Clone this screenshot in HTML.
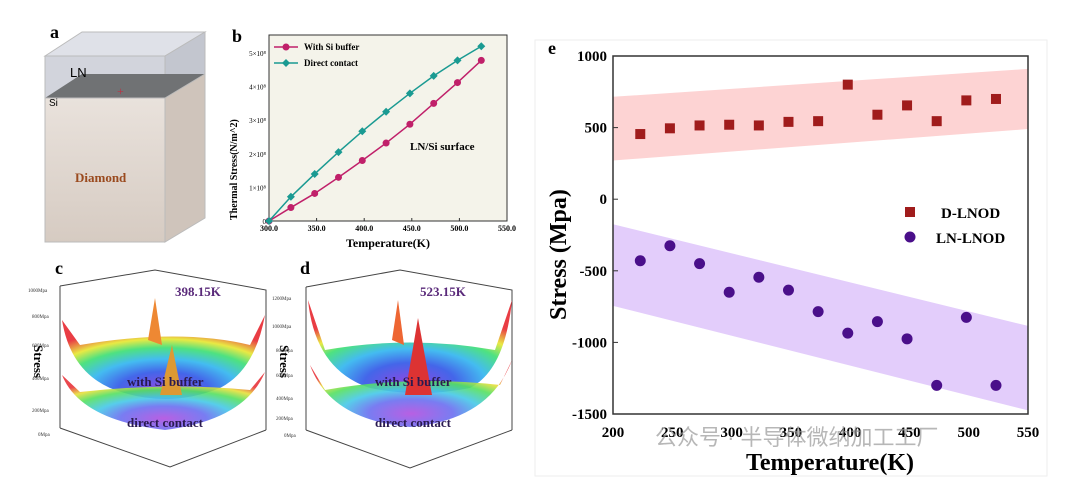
<!DOCTYPE html>
<html><head><meta charset="utf-8"><style>
body{margin:0;background:#fff;width:1080px;height:479px;overflow:hidden;font-family:"Liberation Serif","Noto Sans CJK SC",serif}
svg{display:block}
</style></head><body>
<svg id="fig" width="1080" height="479" viewBox="0 0 1080 479" xmlns="http://www.w3.org/2000/svg" font-family="Liberation Serif, serif">
<defs>
<radialGradient id="bowl" cx="0.5" cy="0.9" r="0.75" fx="0.5" fy="0.9">
<stop offset="0" stop-color="#8a3ee0"/><stop offset="0.3" stop-color="#3a5ee8"/><stop offset="0.5" stop-color="#3ab8f0"/><stop offset="0.68" stop-color="#45e07a"/><stop offset="0.82" stop-color="#e8e83a"/><stop offset="1" stop-color="#e8333a"/>
</radialGradient>
<radialGradient id="bowl2" cx="0.5" cy="0.8" r="0.7" fx="0.5" fy="0.8">
<stop offset="0" stop-color="#b04ee0"/><stop offset="0.3" stop-color="#6a6ef0"/><stop offset="0.5" stop-color="#45c8e8"/><stop offset="0.7" stop-color="#55e060"/><stop offset="0.85" stop-color="#e8e03a"/><stop offset="1" stop-color="#e8333a"/>
</radialGradient>
<linearGradient id="cube" x1="0" y1="0" x2="0" y2="1"><stop offset="0" stop-color="#e9e2dc"/><stop offset="1" stop-color="#d6cbc2"/></linearGradient>
</defs>

<!-- Panel a -->
<g>
<text x="50" y="38" font-size="18" font-weight="bold">a</text>
<polygon points="45,56 82,32 205,32 165,56" fill="#dfe1e8" stroke="#bbb"/>
<rect x="45" y="56" width="120" height="42" fill="#d2d4dc" stroke="#bbb"/>
<polygon points="165,56 205,32 205,74 165,98" fill="#c3c6cf" stroke="#bbb"/>
<polygon points="45,98 82,74 205,74 165,98" fill="#707274"/>
<rect x="45" y="98" width="120" height="144" fill="url(#cube)" stroke="#bbb"/>
<polygon points="165,98 205,74 205,218 165,242" fill="#cfc4bb" stroke="#bbb"/>
<text x="70" y="77" font-size="13" font-family="Liberation Sans, sans-serif">LN</text>
<text x="49" y="106" font-size="10" font-family="Liberation Sans, sans-serif">Si</text>
<text x="75" y="182" font-size="13" font-weight="bold" fill="#9a4a1e">Diamond</text>
<text x="117" y="95" font-size="12" fill="#b34">+</text>
</g>

<!-- Panel b -->
<g id="pb">
<text x="232" y="42" font-size="18" font-weight="bold">b</text>
<rect x="269" y="35" width="238" height="186" fill="#f4f3ea" stroke="#333"/>
<text x="410" y="150" font-size="11" font-weight="bold">LN/Si surface</text>
<text transform="translate(237,220) rotate(-90)" font-size="10" font-weight="bold">Thermal Stress(N/m^2)</text>
<text x="388" y="247" font-size="12" font-weight="bold" text-anchor="middle">Temperature(K)</text>
</g>

<!-- Panel c -->
<g>
<text x="55" y="274" font-size="18" font-weight="bold">c</text>
<polyline points="60,286 155,270 266,290 266,430" fill="none" stroke="#444"/>
<line x1="60" y1="286" x2="60" y2="428" stroke="#444"/>
<polyline points="60,428 170,467 266,430" fill="none" stroke="#444"/>
<path d="M62,320 Q70,370 110,388 Q165,410 220,388 Q255,370 265,315 L250,345 Q180,328 80,345 Z" fill="url(#bowl)" opacity="0.95"/>
<path d="M62,375 Q80,420 165,430 Q245,420 265,372 L250,390 Q170,382 80,392 Z" fill="url(#bowl2)" opacity="0.9"/>
<path d="M148,340 L155,298 L162,345 Z" fill="#e83"/>
<path d="M160,395 L172,345 L182,395 Z" fill="#d93"/>
<text x="175" y="296" font-size="13" font-weight="bold" fill="#5a2a7a">398.15K</text>
<text transform="translate(34,345) rotate(90)" font-size="13" font-weight="bold">Stress</text>
<text x="127" y="386" font-size="13" font-weight="bold" fill="#2a1a50">with Si buffer</text>
<text x="127" y="427" font-size="13" font-weight="bold" fill="#2a1a50">direct contact</text>
<g font-size="5" fill="#333"><text x="28" y="292">1000Mpa</text><text x="32" y="318">800Mpa</text><text x="32" y="347">600Mpa</text><text x="32" y="380">400Mpa</text><text x="32" y="412">200Mpa</text><text x="38" y="436">0Mpa</text></g>
</g>

<!-- Panel d -->
<g>
<text x="300" y="274" font-size="18" font-weight="bold">d</text>
<polyline points="306,287 400,270 512,290 512,430" fill="none" stroke="#444"/>
<line x1="306" y1="287" x2="306" y2="430" stroke="#444"/>
<polyline points="306,430 410,468 512,430" fill="none" stroke="#444"/>
<path d="M308,300 Q315,370 370,388 Q420,398 470,388 Q505,370 512,300 L495,350 Q410,335 325,350 Z" fill="url(#bowl)" opacity="0.95"/>
<path d="M310,365 Q330,420 410,427 Q490,420 512,360 L500,385 Q410,375 325,390 Z" fill="url(#bowl2)" opacity="0.9"/>
<path d="M392,340 L398,300 L404,345 Z" fill="#e63"/>
<path d="M405,395 L418,318 L432,395 Z" fill="#d33"/>
<text x="420" y="296" font-size="13" font-weight="bold" fill="#5a2a7a">523.15K</text>
<text transform="translate(280,345) rotate(90)" font-size="13" font-weight="bold">Stress</text>
<text x="375" y="386" font-size="13" font-weight="bold" fill="#2a1a50">with Si buffer</text>
<text x="375" y="427" font-size="13" font-weight="bold" fill="#2a1a50">direct contact</text>
<g font-size="5" fill="#333"><text x="272" y="300">1200Mpa</text><text x="272" y="328">1000Mpa</text><text x="276" y="352">800Mpa</text><text x="276" y="377">600Mpa</text><text x="276" y="400">400Mpa</text><text x="276" y="420">200Mpa</text><text x="284" y="437">0Mpa</text></g>
</g>

<!-- Panel e -->
<g id="pe">
<rect x="535" y="40" width="512" height="436" fill="none" stroke="#eee"/>
<text x="548" y="54" font-size="18" font-weight="bold">e</text>
<text transform="translate(566,320) rotate(-90)" font-size="24" font-weight="bold">Stress (Mpa)</text>
<text x="830" y="470" font-size="24" font-weight="bold" text-anchor="middle">Temperature(K)</text>
</g>
<text x="655" y="445" font-size="22" fill="#999" opacity="0.7" font-family="Liberation Sans, Noto Sans CJK SC, sans-serif">公众号 · 半导体微纳加工工厂</text>
</svg>
<script>
// Panel b data
const bTemps=[300,323,348,373,398,423,448,473,498,523];
const bBuffer=[0,0.4,0.82,1.3,1.8,2.32,2.88,3.5,4.12,4.78];
const bDirect=[0,0.72,1.4,2.05,2.67,3.25,3.8,4.32,4.78,5.2];
const bXTicks=[300,350,400,450,500,550];
const bYTicks=[0,1,2,3,4,5];
// Panel e data
const eTemps=[223,248,273,298,323,348,373,398,423,448,473,498,523];
const eDLNOD=[455,495,515,520,515,540,545,800,590,655,545,690,700];
const eLNLNOD=[-430,-325,-450,-650,-545,-635,-785,-935,-855,-975,-1300,-825,-1300];
const eRedBandX=[200,550];
const eRedBandLow=[270,490];
const eRedBandHigh=[715,910];
const ePurpleBandLow=[-745,-1475];
const ePurpleBandHigh=[-175,-885];
const eXTicks=[200,250,300,350,400,450,500,550];
const eYTicks=[-1500,-1000,-500,0,500,1000];

const NS='http://www.w3.org/2000/svg';
function mk(parent,tag,attrs){const e=document.createElementNS(NS,tag);for(const k in attrs)e.setAttribute(k,attrs[k]);parent.appendChild(e);return e;}

// Panel b
const pb=document.getElementById('pb');
const bx=v=>269+(v-300)/250*238;
const by=v=>221-v*33.6;
bXTicks.forEach(t=>{
 const tk=mk(pb,'line',{x1:bx(t),x2:bx(t),y1:221,y2:218,stroke:'#333'});
 
 
 const l=mk(pb,'text',{x:bx(t),y:231,'font-size':8,'font-weight':'bold','text-anchor':'middle'});l.textContent=t.toFixed(1);
 
 
});
bYTicks.forEach(t=>{
 const l=mk(pb,'text',{x:266,y:by(t)+3,'font-size':7,'text-anchor':'end'});l.textContent=t===0?'0':t+'×10⁸';
 
 
});
function bSeries(vals,color,shape,name){
 const ln=mk(pb,'polyline',{points:bTemps.map((t,i)=>bx(t)+','+by(vals[i])).join(' '),fill:'none',stroke:color,'stroke-width':1.5});
 
 
 bTemps.forEach((t,i)=>{
  let m;
  if(shape==='c') m=mk(pb,'circle',{cx:bx(t),cy:by(vals[i]),r:3.5,fill:color});
  else {const x=bx(t),y=by(vals[i]);m=mk(pb,'polygon',{points:`${x},${y-4} ${x+4},${y} ${x},${y+4} ${x-4},${y}`,fill:color});}
  
  
 });
}
bSeries(bBuffer,'#c0206a','c','with-si-buffer');
bSeries(bDirect,'#1a9a92','d','direct-contact');
[['With Si buffer','#c0206a','c',47],['Direct contact','#1a9a92','d',63]].forEach(([t,c,s,y])=>{
 const g=mk(pb,'g',{});
 
 
 mk(g,'line',{x1:274,x2:298,y1:y,y2:y,stroke:c,'stroke-width':1.5});
 if(s==='c')mk(g,'circle',{cx:286,cy:y,r:3.5,fill:c});else mk(g,'polygon',{points:`286,${y-4} 290,${y} 286,${y+4} 282,${y}`,fill:c});
 const tx=mk(g,'text',{x:304,y:y+3,'font-size':9,'font-weight':'bold'});tx.textContent=t;
});

// Panel e
const pe=document.getElementById('pe');
const ex=v=>613+(v-200)/350*415;
const ey=v=>414-(v+1500)/2500*358;
function band(lo,hi,color,name){
 const p=mk(pe,'polygon',{points:`${ex(eRedBandX[0])},${ey(hi[0])} ${ex(eRedBandX[1])},${ey(hi[1])} ${ex(eRedBandX[1])},${ey(lo[1])} ${ex(eRedBandX[0])},${ey(lo[0])}`,fill:color});
 
 
}
band(eRedBandLow,eRedBandHigh,'#fdd3d3','d-lnod-band');
band(ePurpleBandLow,ePurpleBandHigh,'#e3cdfb','ln-lnod-band');
const fr=mk(pe,'rect',{x:613,y:56,width:415,height:358,fill:'none',stroke:'#333','stroke-width':1.5});


eXTicks.forEach(t=>{
 const l=mk(pe,'text',{x:ex(t),y:437,'font-size':15,'font-weight':'bold','text-anchor':'middle'});l.textContent=t;
 
 
});
eYTicks.forEach(t=>{
 const tk=mk(pe,'line',{x1:613,x2:618,y1:ey(t),y2:ey(t),stroke:'#333'});
 
 
 const l=mk(pe,'text',{x:607,y:ey(t)+5,'font-size':15,'font-weight':'bold','text-anchor':'end'});l.textContent=t;
 
 
});
eTemps.forEach((t,i)=>{
 const s=mk(pe,'rect',{x:ex(t)-5,y:ey(eDLNOD[i])-5,width:10,height:10,fill:'#a01c1c'});
 
 
 const c=mk(pe,'circle',{cx:ex(t),cy:ey(eLNLNOD[i]),r:5.5,fill:'#4a0f8a'});
 
 
});
const lg1=mk(pe,'g',{});


mk(lg1,'rect',{x:905,y:207,width:10,height:10,fill:'#a01c1c'});
const t1=mk(lg1,'text',{x:941,y:218,'font-size':15,'font-weight':'bold'});t1.textContent='D-LNOD';
const lg2=mk(pe,'g',{});


mk(lg2,'circle',{cx:910,cy:237,r:5.5,fill:'#4a0f8a'});
const t2=mk(lg2,'text',{x:936,y:243,'font-size':15,'font-weight':'bold'});t2.textContent='LN-LNOD';
</script>
</body></html>
